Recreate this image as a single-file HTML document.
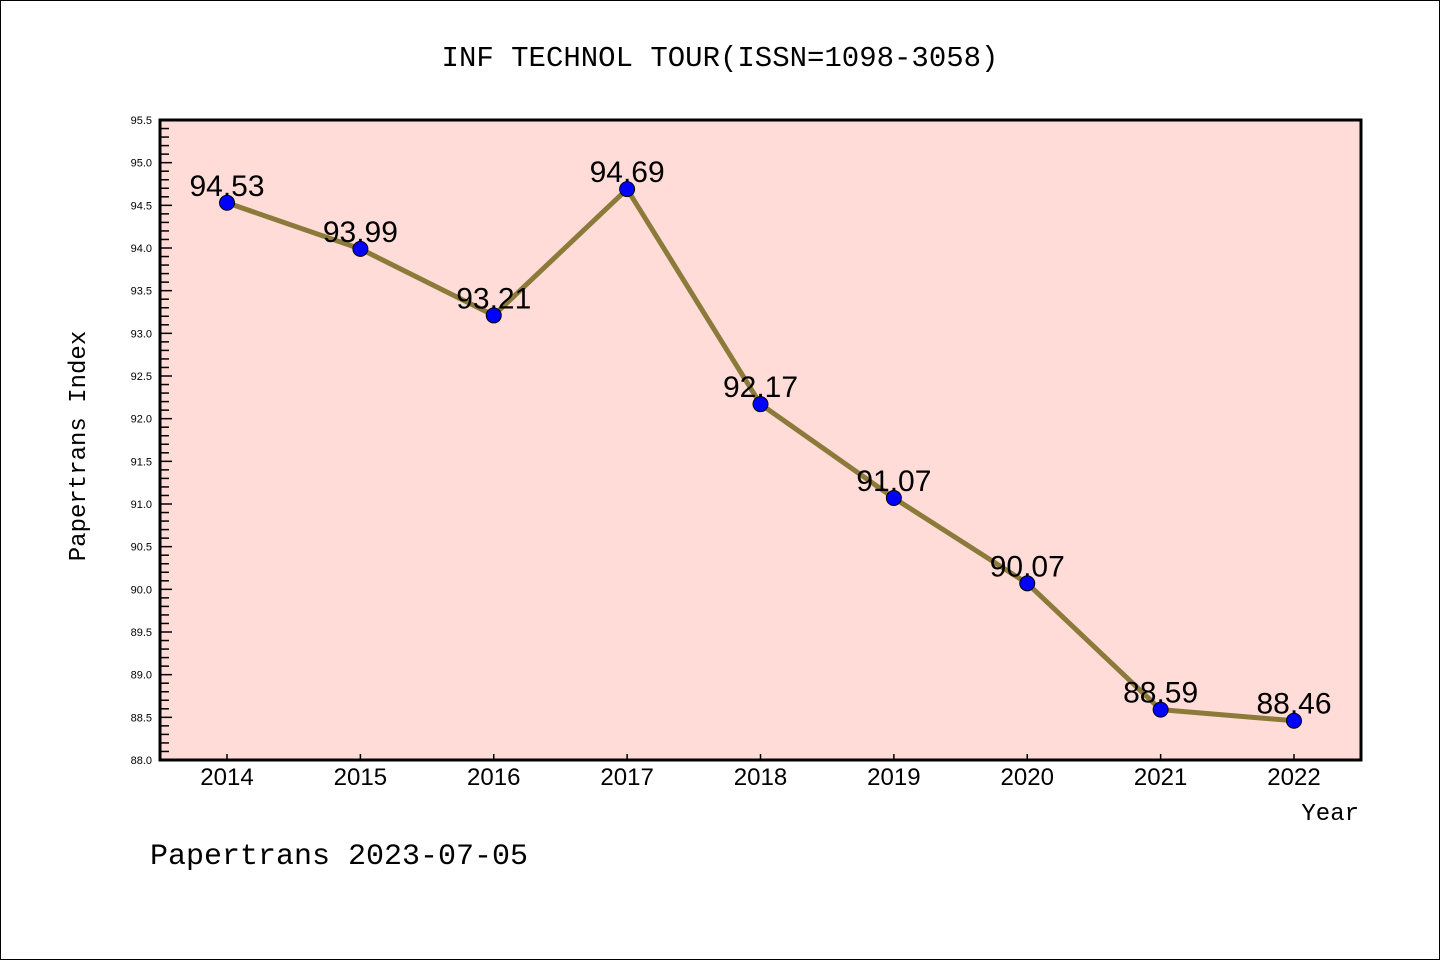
<!DOCTYPE html>
<html><head><meta charset="utf-8"><style>
body{margin:0;background:#fff}
svg{display:block;font-family:"Liberation Mono","DejaVu Sans Mono",monospace}
</style></head><body>
<svg id="c" width="1440" height="960">
<rect x="0.5" y="0.5" width="1439" height="959" fill="#fff" stroke="#000"/>
<text x="720" y="66" text-anchor="middle" font-size="29">INF TECHNOL TOUR(ISSN=1098-3058)</text>
<rect x="160" y="120" width="1201" height="640" fill="#ffdcd8"/>
<g id="g"></g>
<rect x="160" y="120" width="1201" height="640" fill="none" stroke="#000" stroke-width="3"/>
<text transform="translate(85,446) rotate(-90)" text-anchor="middle" font-size="24">Papertrans Index</text>
<text x="1359" y="820" text-anchor="end" font-size="24">Year</text>
<text x="150" y="864" font-size="30">Papertrans 2023-07-05</text>
</svg>
<script>
const years=[2014,2015,2016,2017,2018,2019,2020,2021,2022];
const values=[94.53,93.99,93.21,94.69,92.17,91.07,90.07,88.59,88.46];
const labels=["94.53","93.99","93.21","94.69","92.17","91.07","90.07","88.59","88.46"];
const yTicks=["88.0","88.5","89.0","89.5","90.0","90.5","91.0","91.5","92.0","92.5","93.0","93.5","94.0","94.5","95.0","95.5"];
const yMin=88,yMax=95.5;
const NS="http://www.w3.org/2000/svg";
const g=document.getElementById('g');
const X=v=>227+(v-years[0])*(1294-227)/(years[years.length-1]-years[0]);
const Y=v=>760-(v-yMin)*640/(yMax-yMin);
function mk(t,a){const e=document.createElementNS(NS,t);for(const k in a)e.setAttribute(k,a[k]);g.appendChild(e);return e;}
for(let i=0;i<=75;i++){const v=yMin+i*0.1;const maj=i%5===0;
 const l=mk('line',{x1:160,x2:maj?172:169,y1:Y(v),y2:Y(v),stroke:'#000','stroke-width':1.5});
 
 }
yTicks.forEach(s=>{const t=mk('text',{x:152,y:Y(+s)+4,'text-anchor':'end','font-size':11,'font-family':'Liberation Sans,sans-serif'});t.textContent=s;
 
 });
years.forEach(yr=>{const l=mk('line',{x1:X(yr),x2:X(yr),y1:760,y2:754,stroke:'#000','stroke-width':1.5});
 
 
 const t=mk('text',{x:X(yr),y:785,'text-anchor':'middle','font-size':24,'font-family':'Liberation Sans,sans-serif'});t.textContent=yr;
 
 });
const p=mk('polyline',{points:values.map((v,i)=>X(years[i])+','+Y(v)).join(' '),fill:'none',stroke:'#8b7a3a','stroke-width':5,'stroke-linejoin':'round'});


values.forEach((v,i)=>{const c=mk('circle',{cx:X(years[i]),cy:Y(v),r:7.5,fill:'#0000ff',stroke:'#000','stroke-width':1});
 
 
 const t=mk('text',{x:X(years[i]),y:Y(v)-7,'text-anchor':'middle','font-size':30,'font-family':'Liberation Sans,sans-serif'});t.textContent=labels[i];
 
 });
</script>
</body></html>
